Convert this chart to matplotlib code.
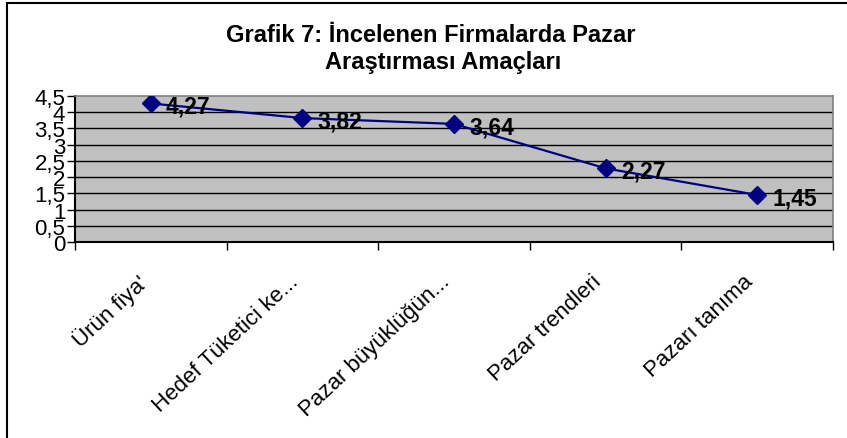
import matplotlib
matplotlib.use("Agg")
import matplotlib.pyplot as plt
from matplotlib.lines import Line2D
from matplotlib.transforms import ScaledTranslation

plt.rcParams["font.family"] = ["Liberation Sans", "DejaVu Sans"]

categories = ["Ürün fiya'", "Hedef Tüketici ke...", "Pazar büyüklüğün...",
              "Pazar trendleri", "Pazarı tanıma"]
values = [4.27, 3.82, 3.64, 2.27, 1.45]
value_labels = ["4,27", "3,82", "3,64", "2,27", "1,45"]
y_ticks = [0, 0.5, 1, 1.5, 2, 2.5, 3, 3.5, 4, 4.5]
y_tick_labels = ["0", "0,5", "1", "1,5", "2", "2,5", "3", "3,5", "4", "4,5"]

W, H = 847, 439
fig = plt.figure(figsize=(W / 100, H / 100), dpi=100)

# plot area in pixel coords
left, right, top, bottom = 75, 833, 97, 243
ax = fig.add_axes([left / W, 1 - bottom / H, (right - left) / W, (bottom - top) / H])
ax.set_facecolor("#C0C0C0")

x = [i + 0.5 for i in range(len(values))]
ax.plot(x, values, color="#000080", lw=1.6, marker="D", markersize=9,
        markerfacecolor="#000080", markeredgecolor="#000080", zorder=3)
for xi, v, lab in zip(x, values, value_labels):
    ax.annotate(lab, (xi, v), xytext=(11, -2), textcoords="offset points",
                fontsize=16.5, fontweight="bold", va="center", ha="left",
                annotation_clip=False, zorder=4)

ax.set_xlim(0, len(values))
ax.set_ylim(0, 4.5)

# horizontal gridlines
for yv in y_ticks[1:-1]:
    ax.axhline(yv, color="black", lw=1.0, zorder=1)

ax.set_yticks(y_ticks)
ax.set_yticklabels(y_tick_labels, fontsize=16)
ax.tick_params(axis="y", length=6, width=1, pad=1)

ax.set_xticks(range(len(values) + 1))
ax.set_xticklabels([])
ax.set_xticks(x, minor=True)
ax.set_xticklabels(categories, minor=True, rotation=43, ha="right",
                   rotation_mode="anchor", fontsize=16)
ax.tick_params(axis="x", which="major", length=6, width=1)
ax.tick_params(axis="x", which="minor", length=0, pad=12)
# nudge the rotated labels a bit left and down, like the original
shift = ScaledTranslation(-14 / 100, -12 / 100, fig.dpi_scale_trans)
for lbl in ax.get_xticklabels(minor=True):
    lbl.set_transform(lbl.get_transform() + shift)

for side in ["top", "right"]:
    ax.spines[side].set_color("#808080")
    ax.spines[side].set_linewidth(1.2)
for side in ["left", "bottom"]:
    ax.spines[side].set_color("black")
    ax.spines[side].set_linewidth(1.5)

# title
fig.text(431 / W, 1 - 35 / H, "Grafik 7: İncelenen Firmalarda Pazar",
         ha="center", va="center", fontsize=17, fontweight="bold")
fig.text(443 / W, 1 - 62 / H, "Araştırması Amaçları",
         ha="center", va="center", fontsize=17, fontweight="bold")

# outer border (left and top only visible)
fig.add_artist(Line2D([7 / W, 7 / W], [0, 1 - 4 / H], color="black", lw=1.5,
                      transform=fig.transFigure))
fig.add_artist(Line2D([7 / W, 1], [1 - 4 / H, 1 - 4 / H], color="black", lw=1.5,
                      transform=fig.transFigure))

fig.savefig("out.png", dpi=100)
